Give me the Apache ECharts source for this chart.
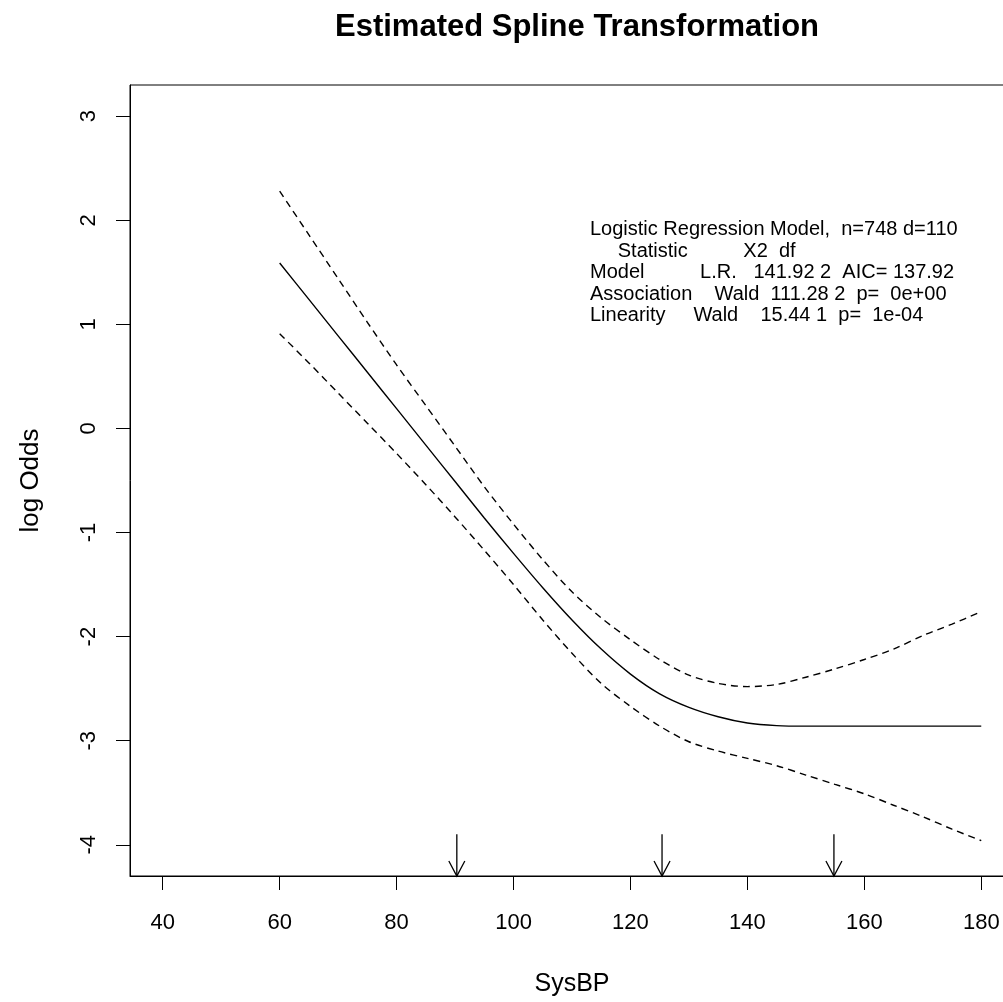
<!DOCTYPE html>
<html>
<head>
<meta charset="utf-8">
<script src="https://cdn.jsdelivr.net/npm/echarts@6/dist/echarts.min.js"></script>
<style>
html,body{margin:0;padding:0;background:#fff;overflow:hidden;}
#chart{width:1014px;height:1002px;}
</style>
</head>
<body>
<div id="chart"></div>
<script>
// ---- data ----
var sysBP = [60,65,70,75,80,85,90,95,100,105,110,115,120,125,130,135,140,145,150,155,160,165,170,175,180];
var logOdds = [1.59,1.24,0.89,0.54,0.19,-0.16,-0.51,-0.86,-1.20,-1.53,-1.84,-2.12,-2.36,-2.55,-2.68,-2.77,-2.83,-2.855,-2.86,-2.86,-2.86,-2.86,-2.86,-2.86,-2.86];
var upperCL = [2.28,1.86,1.44,1.02,0.61,0.22,-0.17,-0.56,-0.92,-1.26,-1.57,-1.82,-2.03,-2.22,-2.37,-2.45,-2.48,-2.46,-2.39,-2.31,-2.22,-2.12,-1.99,-1.88,-1.76];
var lowerCL = [0.91,0.63,0.34,0.05,-0.24,-0.54,-0.85,-1.17,-1.50,-1.84,-2.16,-2.45,-2.67,-2.86,-3.01,-3.10,-3.17,-3.24,-3.33,-3.42,-3.51,-3.62,-3.73,-3.85,-3.96];
var knots = [90.3,125.4,154.8];
var knotArrowTop = -3.9;
var xTicks = [40,60,80,100,120,140,160,180];
var yTicks = [-4,-3,-2,-1,0,1,2,3];
var xRange = [34.4,185.6];
var yRange = [-4.3,3.3];
var titleText = 'Estimated Spline Transformation';
var xName = 'SysBP';
var yName = 'log Odds';
var statsLines = [
  'Logistic Regression Model,  n=748 d=110',
  '     Statistic          X2  df',
  'Model          L.R.   141.92 2  AIC= 137.92',
  'Association    Wald  111.28 2  p=  0e+00',
  'Linearity     Wald    15.44 1  p=  1e-04'
];

function pairs(xs, ys){ return xs.map(function(x,i){ return [x, ys[i]]; }); }

var FONT = 'Liberation Sans, Arial, sans-serif';
var chart = echarts.init(document.getElementById('chart'), null, {renderer:'canvas'});

var option = {
  backgroundColor:'#ffffff',
  animation:false,
  title:{
    text:titleText, left:572, top:7, textAlign:'center',
    textStyle:{fontFamily:FONT, fontWeight:'bold', fontSize:31, color:'#000'}
  },
  grid:{left:130, right:0, top:85, bottom:124, show:true, borderColor:'#000', borderWidth:1, backgroundColor:'transparent'},
  xAxis:{
    type:'value', min:xRange[0], max:xRange[1],
    name:xName, nameLocation:'middle', nameGap:96,
    nameTextStyle:{fontFamily:FONT, fontSize:25, color:'#000'},
    axisLine:{show:true, onZero:false, lineStyle:{color:'#000', width:1}},
    axisTick:{show:true, inside:false, length:14, customValues:xTicks, lineStyle:{color:'#000', width:1}},
    axisLabel:{show:true, customValues:xTicks, margin:36, fontFamily:FONT, fontSize:22, color:'#000'},
    splitLine:{show:false}
  },
  yAxis:{
    type:'value', min:yRange[0], max:yRange[1],
    name:yName, nameLocation:'middle', nameGap:86, nameRotate:90,
    nameTextStyle:{fontFamily:FONT, fontSize:26, color:'#000'},
    axisLine:{show:true, onZero:false, lineStyle:{color:'#000', width:1}},
    axisTick:{show:true, inside:false, length:14, customValues:yTicks, lineStyle:{color:'#000', width:1}},
    axisLabel:{show:true, customValues:yTicks, rotate:90, margin:30, fontFamily:FONT, fontSize:22, color:'#000'},
    splitLine:{show:false}
  },
  graphic:[{
    type:'text', left:590, top:219,
    style:{text:statsLines.join('\n'), fontFamily:FONT, fontSize:20, lineHeight:21.5, fill:'#000'}
  }],
  series:[
    {type:'line', data:pairs(sysBP, logOdds), showSymbol:false, smooth:0.3,
     lineStyle:{color:'#000', width:1.4, type:'solid'}},
    {type:'line', data:pairs(sysBP, upperCL), showSymbol:false, smooth:0.3,
     lineStyle:{color:'#000', width:1.4, type:[7,5]}},
    {type:'line', data:pairs(sysBP, lowerCL), showSymbol:false, smooth:0.3,
     lineStyle:{color:'#000', width:1.4, type:[7,5]}},
    {type:'custom', clip:false,
     data:knots.map(function(k){ return [k, knotArrowTop, yRange[0]]; }),
     renderItem:function(params, api){
       var p0 = api.coord([api.value(0), api.value(1)]);
       var p1 = api.coord([api.value(0), api.value(2)]);
       return {type:'group', children:[
         {type:'line', shape:{x1:p0[0], y1:p0[1], x2:p1[0], y2:p1[1]}, style:{stroke:'#000', lineWidth:1.3}},
         {type:'polyline', shape:{points:[[p1[0]-8,p1[1]-15],[p1[0],p1[1]],[p1[0]+8,p1[1]-15]]}, style:{stroke:'#000', lineWidth:1.3, fill:null}}
       ]};
     }}
  ]
};
chart.setOption(option);
</script>
</body>
</html>
